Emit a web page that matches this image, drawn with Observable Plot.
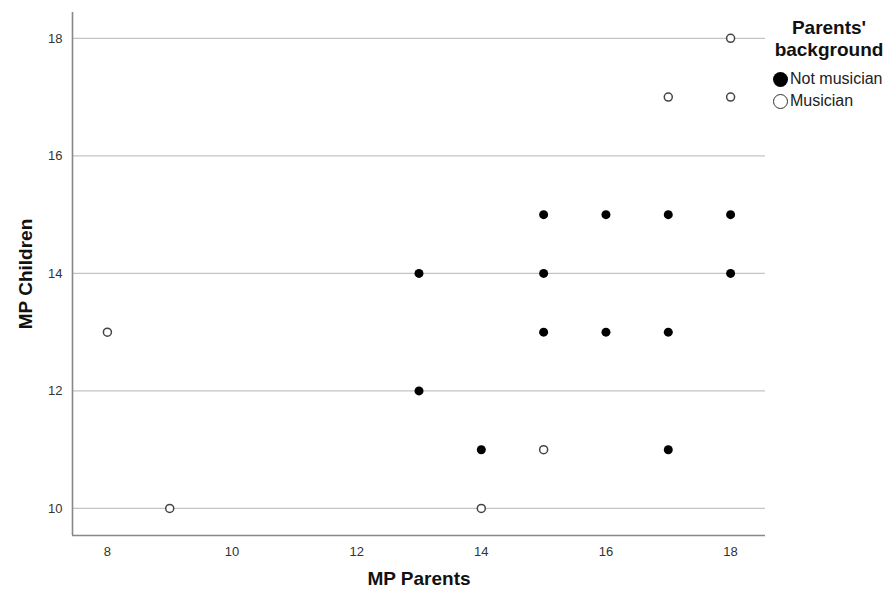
<!DOCTYPE html>
<html>
<head>
<meta charset="utf-8">
<script src="https://cdn.jsdelivr.net/npm/d3@7"></script>
<script src="https://cdn.jsdelivr.net/npm/@observablehq/plot@0.6"></script>
<style>
  body { margin: 0; background: #fff; font-family: "Liberation Sans", Arial, sans-serif; }
  #wrap { position: relative; width: 888px; height: 594px; }
  #legend { position: absolute; left: 770px; top: 17px; width: 118px; color: #111; }
  #legend .title { font-weight: bold; font-size: 19px; text-align: center; line-height: 22px; }
  #legend .item { display: flex; align-items: center; font-size: 16px; height: 22px; color: #222; }
  #legend .sw { width: 15px; height: 15px; border-radius: 50%; box-sizing: border-box; margin-right: 2px; margin-left: 3px; }
</style>
</head>
<body>
<div id="wrap">
  <div id="chart"></div>
  <div id="legend">
    <div class="title">Parents'<br>background</div>
    <div class="item" style="margin-top:7px"><div class="sw" style="background:#000"></div>Not musician</div>
    <div class="item"><div class="sw" style="border:1.3px solid #333;background:#fff"></div>Musician</div>
  </div>
</div>
<script>
const notMusicianParents  = [13, 13, 14, 15, 15, 15, 16, 16, 17, 17, 17, 18, 18];
const notMusicianChildren = [14, 12, 11, 15, 14, 13, 15, 13, 15, 13, 11, 15, 14];
const musicianParents  = [8, 9, 14, 15, 17, 18, 18];
const musicianChildren = [13, 10, 10, 11, 17, 18, 17];
const xTicks = [8, 10, 12, 14, 16, 18];
const yTicks = [10, 12, 14, 16, 18];
const xDomain = [7.44, 18.56];
const yDomain = [9.54, 18.44];

const notMusician = notMusicianParents.map((p, i) => ({parents: p, children: notMusicianChildren[i]}));
const musician = musicianParents.map((p, i) => ({parents: p, children: musicianChildren[i]}));

const chart = Plot.plot({
  width: 888,
  height: 594,
  marginLeft: 72,
  marginRight: 123,
  marginTop: 12,
  marginBottom: 59,
  style: {fontFamily: "'Liberation Sans', Arial, sans-serif", background: "#fff"},
  x: {domain: xDomain},
  y: {domain: yDomain},
  marks: [
    Plot.ruleY(yTicks, {stroke: "#c4c4c4", strokeWidth: 1.3}),
    Plot.ruleX([xDomain[0]], {stroke: "#888", strokeWidth: 1.6}),
    Plot.ruleY([yDomain[0]], {stroke: "#888", strokeWidth: 1.6}),
    Plot.axisY(yTicks, {tickSize: 0, tickPadding: 10, fontSize: 13, fill: "#333", tickFormat: "d", label: null}),
    Plot.axisX(xTicks, {tickSize: 0, tickPadding: 11, fontSize: 13, fill: "#333", tickFormat: "d", label: null}),
    Plot.text(["MP Children"], {frameAnchor: "left", textAnchor: "middle", dx: -47, rotate: -90, fontSize: 19, fontWeight: "bold", fill: "#111"}),
    Plot.text(["MP Parents"], {frameAnchor: "bottom", dy: 49, fontSize: 19, fontWeight: "bold", fill: "#111"}),
    Plot.dot(notMusician, {x: "parents", y: "children", r: 4.5, fill: "#000", stroke: "none"}),
    Plot.dot(musician, {x: "parents", y: "children", r: 4, fill: "#fff", stroke: "#444", strokeWidth: 1.5})
  ]
});
document.getElementById("chart").appendChild(chart);
</script>
</body>
</html>
